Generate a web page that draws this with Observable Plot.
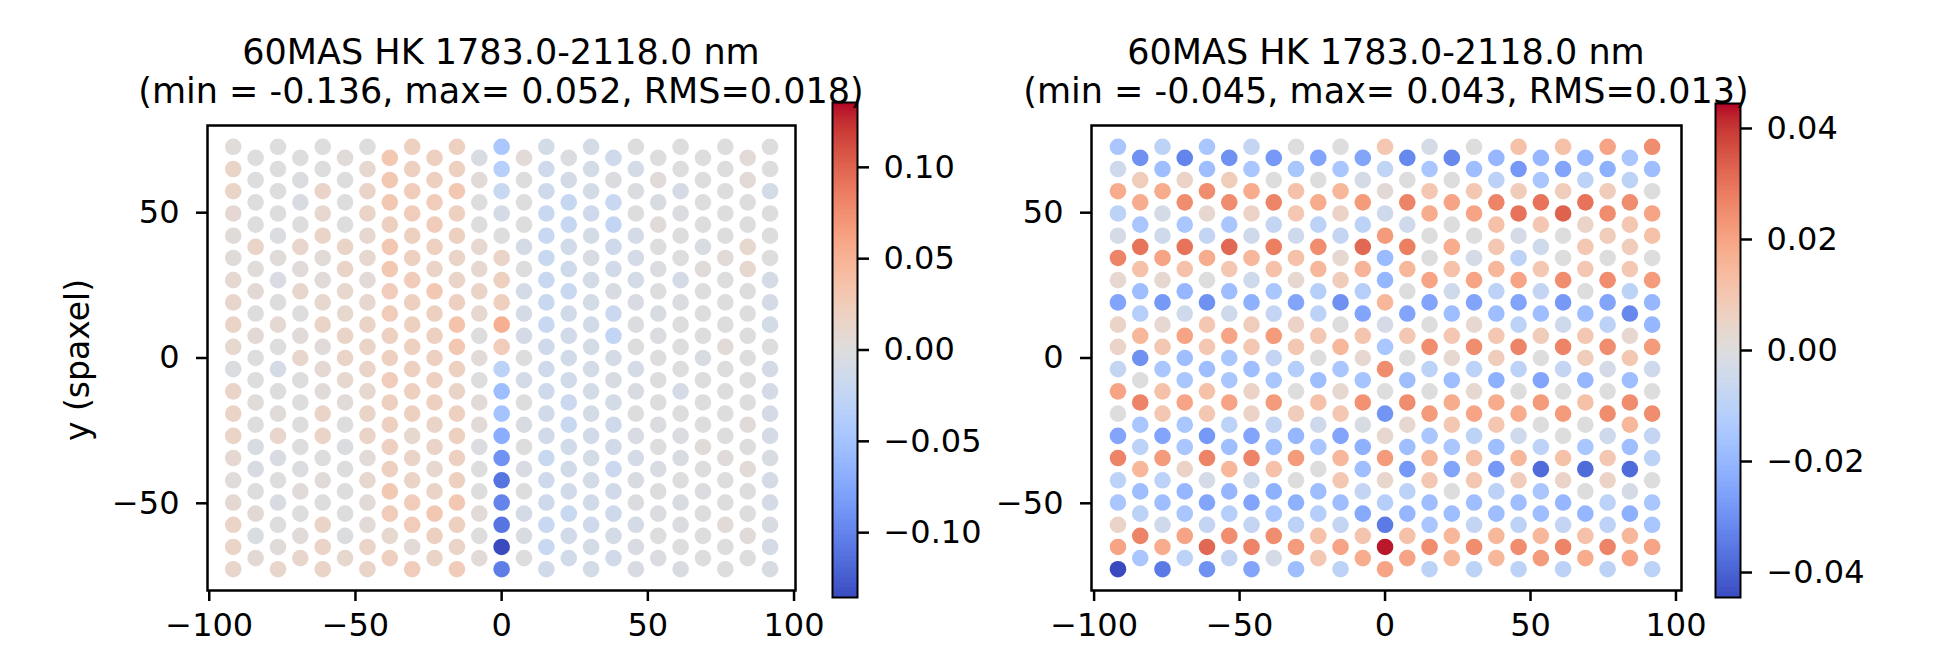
<!DOCTYPE html>
<html>
<head>
<meta charset="utf-8">
<script src="https://cdn.jsdelivr.net/npm/d3@7"></script>
<script src="https://cdn.jsdelivr.net/npm/@observablehq/plot@0.6"></script>
<style>
  html, body { margin: 0; padding: 0; background: #fff; }
  #root { position: relative; width: 1933px; height: 655px; overflow: hidden; background: #fff;
          font-family: "DejaVu Sans", sans-serif; color: #000; }
  #root svg { position: absolute; top: 0; overflow: visible; }
  #root svg g[aria-label$="tick"] path, #root svg .tick line { stroke-width: 2.5px; stroke: #000; }
  .title { position: absolute; font-size: 35px; line-height: 35px; white-space: nowrap; transform: translateX(-50%); }
  .ylabel { position: absolute; font-size: 33px; line-height: 33px; white-space: nowrap;
            transform: translate(-50%, -50%) rotate(-90deg); }
</style>
</head>
<body>
<div id="root"></div>
<script>
// ---------- data ----------
const xCols = [-91.8, -84.15, -76.5, -68.85, -61.2, -53.55, -45.9, -38.25, -30.6, -22.95, -15.3, -7.65, 0,
               7.65, 15.3, 22.95, 30.6, 38.25, 45.9, 53.55, 61.2, 68.85, 76.5, 84.15, 91.8];
const yEven = [72.68, 65.03, 57.38, 49.73, 42.08, 34.43, 26.78, 19.13, 11.48, 3.83,
               -3.83, -11.48, -19.13, -26.78, -34.43, -42.08, -49.73, -57.38, -65.03, -72.68];
const yOdd = [68.85, 61.2, 53.55, 45.9, 38.25, 30.6, 22.95, 15.3, 7.65, 0,
              -7.65, -15.3, -22.95, -30.6, -38.25, -45.9, -53.55, -61.2, -68.85];

// left panel: one list per column (left to right), values top to bottom
const leftValues = [
  [0.002, 0.015, 0.015, 0.008, 0.003, 0.003, 0.008, 0.012, 0.015, 0.01, -0.003, 0.015, 0.015, 0.015, 0.008, 0.003, 0.008, 0.015, 0.015, 0.012],
  [0.0, 0.0, 0.0, 0.0, 0.015, 0.002, 0.006, 0.0, 0.006, 0.0, 0.0, 0.002, 0.0, -0.005, -0.005, 0.0, 0.006, -0.004, 0.006],
  [0.0, 0.0, 0.0, 0.0, -0.003, 0.003, -0.005, 0.0, 0.008, 0.0, -0.008, 0.0, 0.003, 0.012, -0.005, 0.0, -0.005, 0.0, 0.003, 0.012],
  [0.0, -0.003, -0.005, 0.0, 0.012, 0.003, 0.012, 0.0, 0.003, 0.012, 0.0, 0.0, 0.0, 0.0, -0.003, 0.003, 0.0, 0.003, 0.012],
  [0.0, 0.0, 0.015, 0.01, 0.015, 0.005, 0.003, 0.01, 0.015, 0.003, 0.008, 0.003, 0.015, 0.015, 0.0, 0.003, 0.0, 0.015, 0.015, 0.015],
  [0.005, 0.0, 0.0, 0.0, 0.015, 0.015, 0.01, 0.01, 0.015, 0.015, 0.01, 0.005, 0.0, -0.003, 0.0, 0.0, 0.0, -0.003, 0.01],
  [0.0, 0.01, 0.015, 0.015, 0.01, 0.01, 0.005, 0.01, 0.015, 0.015, 0.015, 0.01, 0.015, 0.015, 0.005, 0.01, 0.005, 0.005, 0.015, 0.015],
  [0.03, 0.03, 0.03, 0.02, 0.03, 0.03, 0.025, 0.025, 0.02, 0.02, 0.025, 0.02, 0.02, 0.02, 0.02, 0.03, 0.025, 0.01, 0.02],
  [0.02, 0.02, 0.025, 0.025, 0.02, 0.02, 0.025, 0.02, 0.02, 0.02, 0.02, 0.02, 0.02, 0.01, 0.015, 0.015, 0.025, 0.025, 0.005, 0.025],
  [0.02, 0.02, 0.025, 0.025, 0.02, 0.015, 0.03, 0.02, 0.02, 0.02, 0.02, 0.02, 0.015, 0.015, 0.01, 0.015, 0.03, 0.02, 0.015],
  [0.02, 0.02, 0.03, 0.02, 0.02, 0.015, 0.015, 0.02, 0.035, 0.03, 0.02, 0.015, 0.02, 0.02, 0.02, 0.02, 0.03, 0.02, 0.015, 0.025],
  [-0.005, 0.005, 0.0, 0.0, 0.01, 0.01, 0.015, 0.01, 0.0, 0.005, 0.0, 0.005, 0.005, -0.003, 0.0, 0.0, 0.005, 0.0, 0.005],
  [-0.045, -0.035, -0.02, -0.008, 0.0, 0.015, 0.02, 0.022, 0.052, 0.025, -0.03, -0.055, -0.05, -0.07, -0.09, -0.11, -0.1, -0.11, -0.136, -0.105],
  [0.005, 0.0, 0.0, 0.0, -0.008, 0.0, -0.008, -0.008, -0.008, 0.0, -0.008, 0.0, -0.005, 0.0, -0.005, 0.0, -0.008, -0.005, 0.0],
  [-0.01, -0.015, -0.015, -0.02, -0.02, -0.02, -0.02, -0.02, -0.02, -0.015, -0.015, -0.015, -0.012, -0.012, -0.02, -0.015, -0.015, -0.02, -0.02, -0.012],
  [-0.003, -0.01, -0.022, -0.022, -0.012, -0.015, -0.02, -0.012, -0.012, -0.012, -0.012, -0.018, -0.02, -0.012, -0.012, -0.012, -0.02, -0.012, -0.012],
  [-0.008, -0.01, -0.01, -0.015, -0.01, -0.005, -0.01, -0.01, -0.012, -0.01, -0.01, -0.01, -0.01, -0.012, -0.01, -0.01, -0.012, -0.015, -0.01, -0.01],
  [-0.015, -0.003, -0.02, -0.025, -0.015, -0.012, -0.005, -0.018, -0.025, -0.008, -0.005, -0.01, -0.015, -0.012, -0.018, -0.012, -0.015, -0.01, -0.012],
  [0.0, -0.01, -0.003, 0.0, -0.008, -0.008, -0.01, -0.005, -0.003, 0.0, -0.008, -0.005, 0.0, -0.005, -0.008, -0.005, -0.003, -0.008, -0.005, -0.005],
  [0.0, 0.003, -0.005, 0.003, 0.0, -0.003, 0.0, -0.005, -0.003, 0.0, 0.0, 0.0, -0.003, 0.0, -0.005, 0.0, -0.003, 0.0, -0.003],
  [0.0, 0.0, -0.008, -0.003, 0.0, 0.0, -0.008, -0.003, 0.0, 0.0, 0.0, -0.008, 0.0, -0.003, -0.005, 0.0, -0.005, -0.003, 0.0, -0.005],
  [0.0, 0.0, 0.0, 0.0, -0.005, 0.003, 0.0, 0.0, 0.0, -0.005, 0.0, 0.0, 0.0, 0.003, 0.0, -0.003, 0.0, 0.0, 0.0],
  [0.0, 0.0, 0.0, 0.0, 0.0, 0.005, 0.0, 0.0, 0.0, 0.005, 0.0, 0.0, 0.0, 0.0, 0.003, 0.0, 0.0, 0.005, 0.0, 0.0],
  [0.005, 0.005, 0.0, 0.0, 0.01, 0.01, 0.0, 0.0, 0.0, 0.0, 0.0, 0.0, 0.003, 0.0, 0.005, 0.0, 0.0, 0.003, 0.0],
  [0.0, 0.0, -0.01, 0.0, 0.0, 0.0, -0.008, -0.008, -0.01, 0.0, -0.008, -0.008, -0.008, -0.008, -0.005, -0.008, -0.008, -0.005, -0.008, -0.005]
];

// right panel: one list per column (left to right), values top to bottom
const rightValues = [
  [-0.015, -0.005, 0.018, -0.01, -0.003, 0.027, 0.003, -0.025, 0.005, 0.005, -0.008, 0.02, 0.0, -0.025, 0.027, -0.01, -0.015, 0.005, 0.02, -0.045],
  [-0.03, 0.008, 0.018, -0.015, 0.03, 0.012, -0.018, -0.012, 0.015, -0.03, 0.0, 0.027, -0.015, -0.01, 0.015, -0.018, -0.01, 0.027, -0.015],
  [-0.01, -0.018, 0.018, -0.003, -0.005, 0.02, 0.003, -0.028, 0.003, 0.01, -0.015, 0.012, 0.01, -0.025, 0.022, -0.01, -0.018, -0.005, 0.018, -0.035],
  [-0.033, 0.005, 0.025, -0.015, 0.03, 0.012, -0.02, -0.005, 0.02, -0.018, -0.015, 0.02, -0.015, -0.015, 0.005, -0.02, -0.015, 0.02, -0.01],
  [-0.015, -0.018, 0.025, 0.003, -0.008, 0.018, 0.0, -0.03, 0.01, 0.01, -0.018, 0.012, 0.01, -0.028, 0.027, -0.003, -0.025, -0.008, 0.032, -0.03],
  [-0.03, 0.008, 0.025, -0.015, 0.032, 0.01, -0.018, -0.005, 0.02, -0.015, -0.015, 0.02, -0.01, -0.018, 0.015, -0.02, -0.012, 0.025, -0.008],
  [-0.008, -0.015, 0.018, 0.005, -0.005, 0.015, -0.005, -0.022, 0.008, 0.01, -0.018, 0.005, 0.005, -0.025, 0.027, -0.005, -0.025, -0.008, 0.027, -0.025],
  [-0.028, 0.0, 0.027, -0.008, 0.028, 0.012, -0.015, -0.008, 0.022, -0.008, -0.015, 0.022, -0.008, -0.018, 0.012, -0.022, -0.015, 0.025, -0.003],
  [0.0, -0.015, 0.012, 0.01, -0.005, 0.012, 0.003, -0.025, 0.005, 0.01, -0.012, 0.0, 0.008, -0.02, 0.022, 0.0, -0.022, -0.01, 0.022, -0.018],
  [-0.025, 0.0, 0.018, -0.01, 0.025, 0.015, -0.012, -0.01, 0.01, 0.0, -0.018, 0.012, -0.005, -0.015, 0.0, -0.018, -0.012, 0.012, 0.01],
  [0.0, -0.015, 0.015, 0.005, -0.008, 0.003, 0.008, -0.03, 0.0, 0.015, -0.015, 0.003, 0.01, -0.025, 0.015, 0.01, -0.018, -0.008, 0.02, -0.01],
  [-0.025, -0.003, 0.022, -0.01, 0.032, 0.016, -0.012, -0.025, 0.011, 0.003, -0.016, 0.024, -0.002, -0.022, -0.018, -0.008, -0.024, 0.011, 0.018],
  [0.01, -0.009, 0.002, -0.005, 0.022, -0.019, -0.02, 0.015, -0.003, -0.015, 0.025, 0.0, -0.029, 0.003, 0.022, 0.004, -0.012, -0.035, 0.043, 0.02],
  [-0.032, 0.0, 0.027, -0.005, 0.028, 0.015, 0.0, -0.025, 0.01, 0.0, -0.018, 0.025, 0.003, -0.018, -0.028, -0.01, -0.02, 0.012, 0.02],
  [-0.003, -0.015, 0.01, 0.018, 0.0, 0.0, 0.02, -0.025, 0.0, 0.025, -0.01, 0.0, 0.022, -0.015, 0.015, 0.01, -0.018, -0.015, 0.025, -0.01],
  [-0.032, 0.0, 0.02, 0.0, 0.018, 0.012, -0.005, -0.018, 0.01, 0.003, -0.018, 0.018, 0.01, -0.015, -0.025, 0.0, -0.018, 0.015, 0.015],
  [0.0, -0.018, 0.01, 0.02, 0.0, -0.003, 0.02, -0.025, 0.003, 0.025, -0.01, 0.003, 0.02, -0.01, 0.012, 0.01, -0.018, -0.008, 0.025, -0.01],
  [-0.02, -0.01, 0.027, 0.012, 0.01, 0.015, -0.01, -0.018, 0.01, 0.008, -0.022, 0.018, 0.01, -0.018, -0.028, -0.01, -0.018, 0.015, 0.015],
  [0.012, -0.028, 0.008, 0.03, -0.003, -0.01, 0.02, -0.025, -0.01, 0.027, -0.01, 0.0, 0.018, -0.005, 0.015, 0.008, -0.018, -0.01, 0.025, -0.01],
  [-0.02, -0.015, 0.03, 0.01, -0.005, 0.01, -0.008, -0.018, 0.008, 0.0, -0.025, 0.022, 0.0, -0.01, -0.038, -0.015, -0.018, 0.015, 0.022],
  [0.012, -0.025, 0.008, 0.033, 0.0, 0.0, 0.025, -0.028, -0.005, 0.027, -0.008, 0.0, 0.022, 0.0, 0.012, 0.005, -0.02, -0.008, 0.027, -0.01],
  [-0.02, -0.01, 0.03, 0.005, 0.01, 0.01, 0.0, -0.018, 0.01, 0.008, -0.02, 0.012, 0.0, -0.015, -0.038, 0.0, -0.02, 0.012, 0.018],
  [0.02, -0.022, 0.008, 0.025, 0.008, 0.0, 0.025, -0.025, -0.01, 0.025, -0.003, 0.0, 0.025, -0.005, 0.01, 0.005, -0.01, -0.01, 0.027, -0.01],
  [-0.015, -0.01, 0.025, 0.01, 0.008, 0.01, -0.01, -0.032, 0.003, 0.01, -0.018, 0.025, 0.015, -0.018, -0.038, -0.003, -0.022, 0.015, 0.02],
  [0.025, -0.018, 0.0, 0.02, 0.012, 0.0, 0.022, -0.02, -0.02, 0.022, -0.005, 0.0, 0.025, -0.008, -0.01, 0.0, -0.015, -0.015, 0.02, -0.01]
];

const xTicks = [-100, -50, 0, 50, 100];
const yTicks = [-50, 0, 50];
const leftBarTicks = [-0.10, -0.05, 0.00, 0.05, 0.10];
const rightBarTicks = [-0.04, -0.02, 0.00, 0.02, 0.04];
const leftTitle = ["60MAS HK 1783.0-2118.0 nm", "(min = -0.136, max= 0.052, RMS=0.018)"];
const rightTitle = ["60MAS HK 1783.0-2118.0 nm", "(min = -0.045, max= 0.043, RMS=0.013)"];
const yLabel = "y (spaxel)";
const leftLimit = 0.1355;
const rightLimit = 0.0445;

// matplotlib "coolwarm" (Moreland) control colours
const coolwarm = ["#3b4cc0","#445acc","#4d68d7","#5775e1","#6282ea","#6c8ef1","#779af7","#82a5fb",
  "#8db0fe","#98b9ff","#a3c2ff","#aec9fd","#b8d0f9","#c2d5f4","#ccd9ee","#d5dbe6","#dddddd",
  "#e5d8d1","#ecd3c5","#f1ccb9","#f5c4ad","#f7bba0","#f7b194","#f7a687","#f49a7b","#f18d6f",
  "#ec7f63","#e57058","#de604d","#d55042","#cb3e38","#c0282f","#b40426"];
const interp = d3.piecewise(d3.interpolateRgb, coolwarm);

// ---------- build ----------
const root = document.getElementById("root");

function toPoints(values) {
  const pts = [];
  values.forEach((col, k) => {
    const ys = col.length === yEven.length ? yEven : yOdd;
    col.forEach((v, j) => pts.push({x: xCols[k], y: ys[j], v}));
  });
  return pts;
}

const baseStyle = {fontFamily: "DejaVu Sans", fontSize: "32px", color: "#000", background: "transparent", overflow: "visible"};

function panel({values, limit, xDomain, width, marginLeft, marginRight}) {
  return Plot.plot({
    width, height: 655, marginLeft, marginRight, marginTop: 125, marginBottom: 65,
    style: baseStyle,
    x: {domain: xDomain, ticks: xTicks, tickFormat: d3.format("d"), tickSize: 11, tickPadding: 12, label: null},
    y: {domain: [-80, 80], ticks: yTicks, tickFormat: d3.format("d"), tickSize: 11, tickPadding: 17, label: null},
    color: {type: "linear", domain: [-limit, limit], interpolate: interp},
    marks: [
      Plot.dot(toPoints(values), {x: "x", y: "y", fill: "v", r: 8.3}),
      Plot.frame({stroke: "#000", strokeWidth: 2.5})
    ]
  });
}

function colorbar({limit, ticks, marginTop}) {
  const n = 400;
  const slices = d3.range(n).map(i => ({
    y1: -limit + 2 * limit * i / n,
    y2: Math.min(limit, -limit + 2 * limit * (i + 1.6) / n),
    v: -limit + 2 * limit * (i + 0.5) / n
  }));
  return Plot.plot({
    width: 145, height: 655, marginLeft: 0, marginRight: 120, marginTop, marginBottom: 58,
    style: baseStyle,
    x: {domain: [0, 1], axis: null},
    y: {domain: [-limit, limit], ticks, tickFormat: d3.format(".2f"), tickSize: 11, tickPadding: 15, axis: "right", label: null},
    color: {type: "linear", domain: [-limit, limit], interpolate: interp},
    marks: [
      Plot.rect(slices, {x1: 0, x2: 1, y1: "y1", y2: "y2", fill: "v"}),
      Plot.frame({stroke: "#000", strokeWidth: 2})
    ]
  });
}

function place(el, left) { el.style.left = left + "px"; el.style.top = "0px"; root.appendChild(el); }

place(panel({values: leftValues, limit: leftLimit, xDomain: [-100.6, 100.5], width: 800, marginLeft: 207, marginRight: 5}), 0);
place(colorbar({limit: leftLimit, ticks: leftBarTicks, marginTop: 102}), 832);
place(panel({values: rightValues, limit: rightLimit, xDomain: [-100.9, 101.9], width: 790, marginLeft: 191, marginRight: 9}), 900);
place(colorbar({limit: rightLimit, ticks: rightBarTicks, marginTop: 103}), 1715);

function addTitle(lines, cx) {
  lines.forEach((t, i) => {
    const d = document.createElement("div");
    d.className = "title";
    d.textContent = t;
    d.style.left = cx + "px";
    d.style.top = (35.4 + 39 * i) + "px";
    root.appendChild(d);
  });
}
addTitle(leftTitle, 501);
addTitle(rightTitle, 1386);

const yl = document.createElement("div");
yl.className = "ylabel";
yl.textContent = yLabel;
yl.style.left = "77px";
yl.style.top = "360px";
root.appendChild(yl);
</script>
</body>
</html>
